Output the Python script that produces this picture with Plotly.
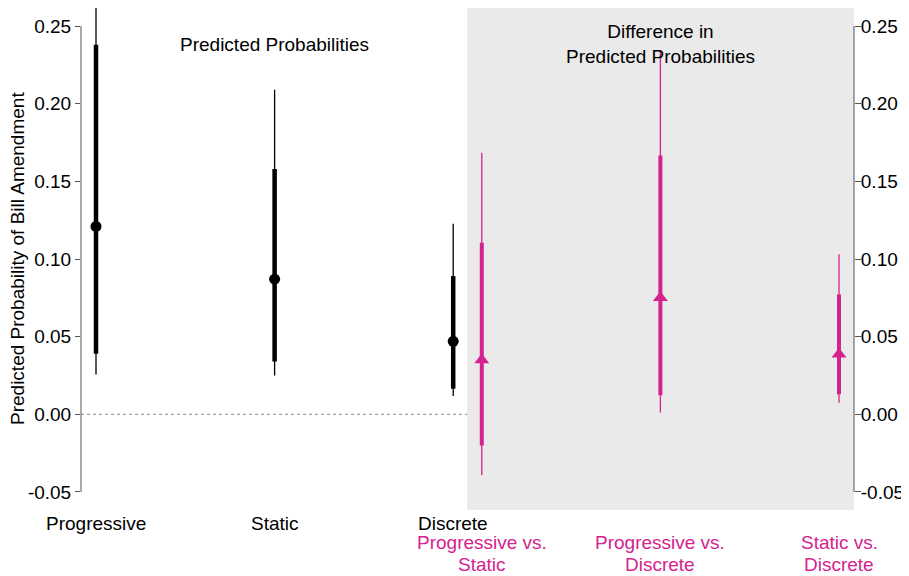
import plotly.graph_objects as go

# ---- data ----
pp_labels = ["Progressive", "Static", "Discrete"]
pp_x = [1.0, 2.0, 3.0]
pp_est = [0.121, 0.087, 0.047]
pp_lo90 = [0.039, 0.034, 0.0165]
pp_hi90 = [0.238, 0.158, 0.089]
pp_lo95 = [0.0257, 0.025, 0.0118]
pp_hi95 = [0.265, 0.209, 0.1227]

diff_labels_l1 = ["Progressive vs.", "Progressive vs.", "Static vs."]
diff_labels_l2 = ["Static", "Discrete", "Discrete"]
diff_x = [3.16, 4.16, 5.16]
diff_est = [0.035, 0.075, 0.0386]
diff_lo90 = [-0.020, 0.0122, 0.0129]
diff_hi90 = [0.1105, 0.1667, 0.0772]
diff_lo95 = [-0.0393, 0.0011, 0.0075]
diff_hi95 = [0.1684, 0.2344, 0.103]

y_ticks = [-0.05, 0.0, 0.05, 0.10, 0.15, 0.20, 0.25]
y_ticktext = ["-0.05", "0.00", "0.05", "0.10", "0.15", "0.20", "0.25"]

BLACK = "#000000"
MAG = "#D4238F"
FONT = "Liberation Sans, Arial, sans-serif"


def segs(xs, los, his):
    X, Y = [], []
    for x, a, b in zip(xs, los, his):
        X += [x, x, None]
        Y += [a, b, None]
    return X, Y


fig = go.Figure()

# zero reference line
fig.add_shape(type="line", xref="paper", x0=0, x1=1, yref="y", y0=0, y1=0,
              line=dict(color="#888888", width=1, dash="dot"), layer="below")
# grey panel
fig.add_shape(type="rect", xref="x", x0=3.078, x1=5.26, yref="paper", y0=0, y1=1,
              fillcolor="#EAEAEA", line=dict(width=0), layer="below")

for xs, lo95, hi95, lo90, hi90, est, col, sym, w95, w90, msz in [
    (pp_x, pp_lo95, pp_hi95, pp_lo90, pp_hi90, pp_est, BLACK, "circle", 1.3, 4.5, 11),
    (diff_x, diff_lo95, diff_hi95, diff_lo90, diff_hi90, diff_est, MAG, "triangle-up", 1.3, 4, 13),
]:
    X, Y = segs(xs, lo95, hi95)
    fig.add_trace(go.Scatter(x=X, y=Y, mode="lines", line=dict(color=col, width=w95),
                             showlegend=False, hoverinfo="skip"))
    X, Y = segs(xs, lo90, hi90)
    fig.add_trace(go.Scatter(x=X, y=Y, mode="lines", line=dict(color=col, width=w90),
                             showlegend=False, hoverinfo="skip"))
    fig.add_trace(go.Scatter(x=xs, y=est, mode="markers",
                             marker=dict(color=col, symbol=sym, size=msz, line=dict(width=0)),
                             showlegend=False))

# dummy traces for the right axes
fig.add_trace(go.Scatter(x=[None], y=[None], yaxis="y2", showlegend=False))
fig.add_trace(go.Scatter(x=[None], y=[None], yaxis="y3", showlegend=False))

yr = [-0.0616, 0.2616]
axis_common = dict(range=yr, tickvals=y_ticks, ticktext=y_ticktext, showgrid=False, zeroline=False,
                   showline=False, ticks="outside", tickcolor="#555555", tickwidth=1,
                   tickfont=dict(size=19), automargin=False)
# page body has an 8px margin, so the figure is sized to fit inside the 909x576 window
fig.update_layout(
    width=901, height=568,
    margin=dict(l=73, r=55, t=0, b=66),
    plot_bgcolor="white", paper_bgcolor="white",
    font=dict(family=FONT, size=19, color="black"),
    xaxis=dict(range=[0.916, 5.244], showgrid=False, zeroline=False, showticklabels=False,
               showline=False, ticks="", automargin=False),
    yaxis=dict(**axis_common, ticklen=5),
    # right axis: labels (short ticks keep labels close, as in the reference)
    yaxis2=dict(**axis_common, ticklen=2, overlaying="y", side="right"),
    # right axis: full-length tick marks only
    yaxis3=dict(range=yr, tickvals=y_ticks, showticklabels=False, showgrid=False, zeroline=False,
                showline=False, ticks="outside", ticklen=6, tickcolor="#555555", tickwidth=1,
                overlaying="y", side="right", automargin=False),
)

# axis lines spanning tick range (R-style)
fig.add_shape(type="line", xref="paper", x0=0, x1=0, yref="y", y0=y_ticks[0], y1=y_ticks[-1],
              line=dict(color="#555555", width=1))
fig.add_shape(type="line", xref="paper", x0=1, x1=1, yref="y", y0=y_ticks[0], y1=y_ticks[-1],
              line=dict(color="#555555", width=1))

ann = []
for x, t in zip(pp_x, pp_labels):
    ann.append(dict(x=x, y=0, xref="x", yref="paper", text=t, showarrow=False,
                    xanchor="center", yanchor="middle", yshift=-13, font=dict(size=19, color="black")))
for x, t1, t2 in zip(diff_x, diff_labels_l1, diff_labels_l2):
    ann.append(dict(x=x, y=0, xref="x", yref="paper", text=t1, showarrow=False,
                    xanchor="center", yanchor="middle", yshift=-32, font=dict(size=19, color=MAG)))
    ann.append(dict(x=x, y=0, xref="x", yref="paper", text=t2, showarrow=False,
                    xanchor="center", yanchor="middle", yshift=-54, font=dict(size=19, color=MAG)))
ann.append(dict(x=pp_x[1], y=(502 - 36) / 502, xref="x", yref="paper", text="Predicted Probabilities",
                showarrow=False, xanchor="center", yanchor="middle", font=dict(size=19, color="black")))
ann.append(dict(x=diff_x[1], y=(502 - 35.5) / 502, xref="x", yref="paper",
                text="Difference in<br>Predicted Probabilities",
                showarrow=False, xanchor="center", yanchor="middle", font=dict(size=19, color="black")))
ann.append(dict(x=0, y=0.5, xref="paper", yref="paper", text="Predicted Probability of Bill Amendment",
                textangle=-90, showarrow=False, xanchor="center", yanchor="middle", xshift=-64,
                font=dict(size=19, color="black")))
fig.update_layout(annotations=ann)

fig.write_html("out.html")
